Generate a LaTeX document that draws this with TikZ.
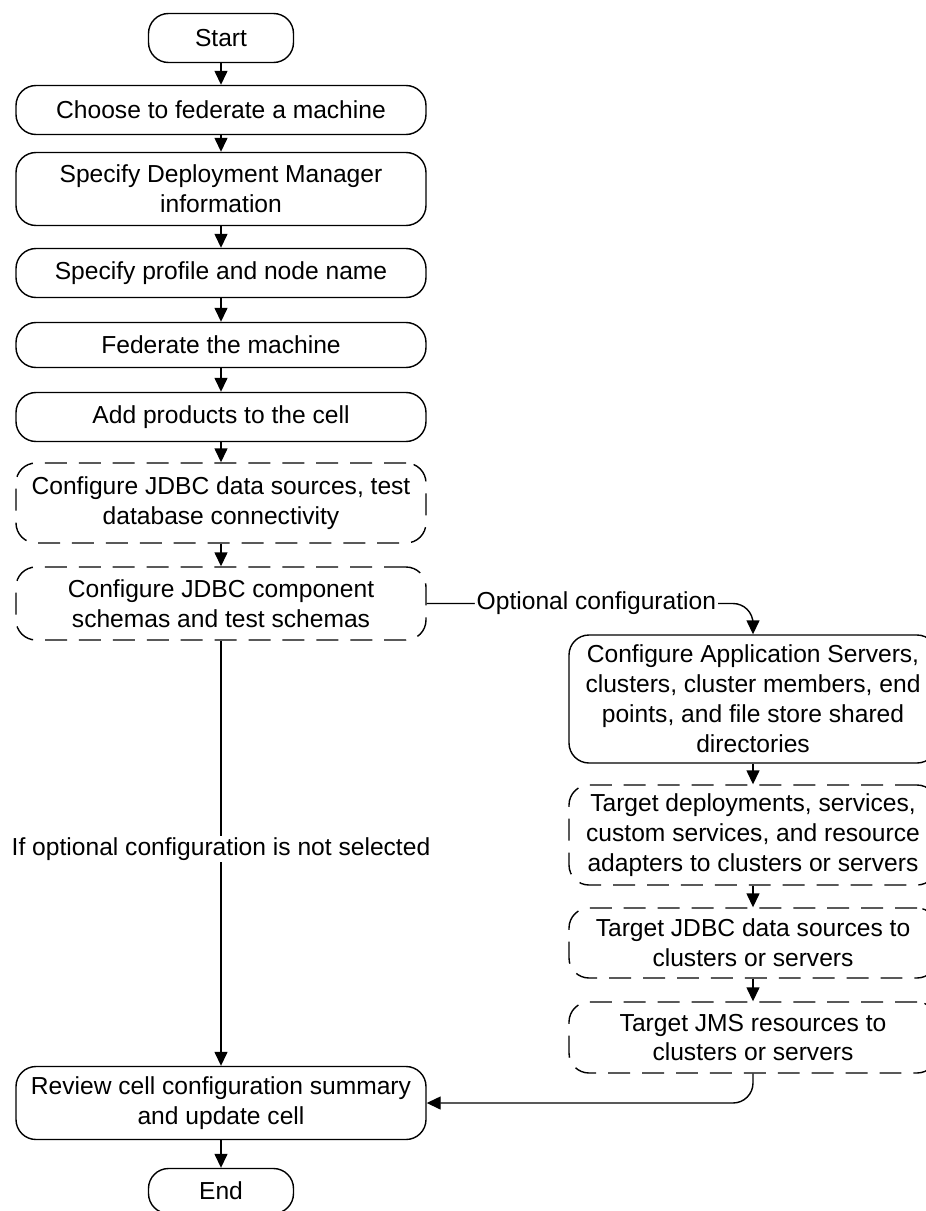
\documentclass[tikz,border=0pt]{standalone}
\usepackage{fontspec}
\setmainfont{Liberation Sans}
\usetikzlibrary{positioning}
\usetikzlibrary{arrows.meta}

\begin{document}
\begin{tikzpicture}[node distance=1.44cm,
    line width=0.8pt,
    box/.style={draw, rounded corners=0.4cm, minimum width=8.2cm, minimum height=0.98cm, align=center, inner sep=2pt, font=\fontsize{14}{17}\selectfont},
    optbox/.style={box, dash pattern=on 12.5pt off 6.8pt},
    wide/.style={minimum width=7.36cm},
    arr/.style={-{Triangle[length=0.28cm,width=0.26cm]}},
    lbl/.style={fill=white, inner sep=1pt, font=\fontsize{14}{17}\selectfont}]
            \useasboundingbox (0,0) rectangle (18.5,-24.22);

            \node[box, minimum width=2.9cm] (start) at (4.42,-0.76) {Start};
            \node[box, below of=start] (choose) {Choose to federate a machine};
            \node[box, minimum height=1.46cm, below of=choose, node distance=1.58cm] (dminfo) {Specify Deployment Manager\\information};
            \node[box, below of=dminfo, node distance=1.68cm] (profile) {Specify profile and node name};
            \node[box, minimum height=0.9cm, below of=profile] (federate) {Federate the machine};
            \node[box, below of=federate] (products) {Add products to the cell};
            \node[optbox, minimum height=1.6cm, below of=products, node distance=1.72cm] (jdbcds) {Configure JDBC data sources, test\\database connectivity};
            \node[optbox, minimum height=1.46cm, below of=jdbcds, node distance=2.01cm] (schemas) {Configure JDBC component\\schemas and test schemas};
            \node[box, minimum height=1.46cm, below of=schemas, node distance=9.99cm] (review) {Review cell configuration summary\\and update cell};
            \node[box, minimum width=2.9cm, minimum height=0.9cm, below of=review, node distance=1.76cm] (end) {End};

            \node[box, wide, minimum height=2.56cm] (appsrv) at (15.06,-13.98) {Configure Application Servers,\\clusters, cluster members, end\\points, and file store shared\\directories};
            \node[optbox, wide, minimum height=2.0cm, below of=appsrv, node distance=2.72cm] (deploy) {Target deployments, services,\\custom services, and resource\\adapters to clusters or servers};
            \node[optbox, wide, minimum height=1.4cm, below of=deploy, node distance=2.16cm] (jdbctgt) {Target JDBC data sources to\\clusters or servers};
            \node[optbox, wide, minimum height=1.42cm, below of=jdbctgt, node distance=1.89cm] (jms) {Target JMS resources to\\clusters or servers};

            \path[arr]
            (start) edge (choose)
            (choose) edge (dminfo)
            (dminfo) edge (profile)
            (profile) edge (federate)
            (federate) edge (products)
            (products) edge (jdbcds)
            (jdbcds) edge (schemas)
            (schemas) edge node[lbl, pos=0.49] (skip) {If optional configuration is not selected} (review)
            (review) edge (end)
            (appsrv) edge (deploy)
            (deploy) edge (jdbctgt)
            (jdbctgt) edge (jms);

            \draw[arr, rounded corners=0.4cm] (schemas.east) -- node[lbl, pos=0.52] (optional) {Optional configuration} (appsrv.north |- schemas.east) -- (appsrv.north);
            \draw[arr, rounded corners=0.4cm] (jms.south) -- (jms.south |- review.east) -- (review.east);
          \end{tikzpicture}
\end{document}
